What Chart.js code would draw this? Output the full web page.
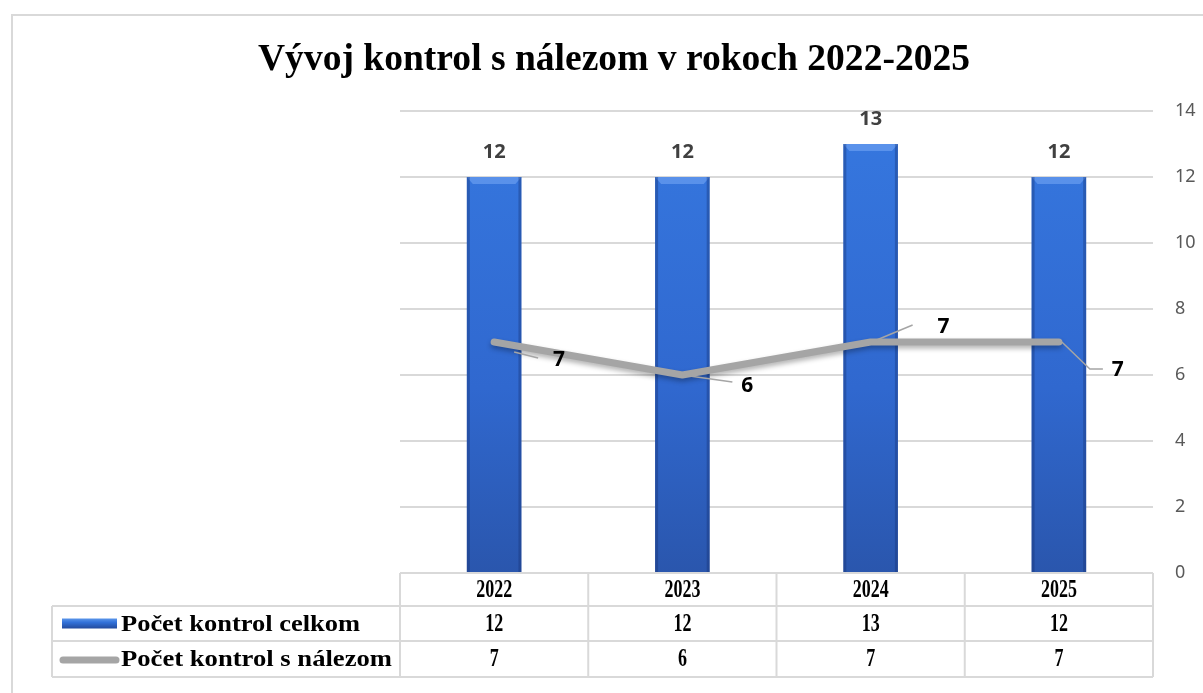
<!DOCTYPE html>
<html>
<head>
<meta charset="utf-8">
<script src="https://cdn.jsdelivr.net/npm/chart.js@4.4.1/dist/chart.umd.min.js"></script>
<style>
  body { margin: 0; background: #fff; }
  #wrap { width: 1203px; height: 693px; }
</style>
</head>
<body>
<div id="wrap"><canvas id="chart" width="1203" height="693"></canvas></div>
<script>
const years = ["2022", "2023", "2024", "2025"];
const totalChecks = [12, 12, 13, 12];
const checksWithFinding = [7, 6, 7, 7];
const seriesNames = ["Počet kontrol celkom", "Počet kontrol s nálezom"];
const chartTitle = "Vývoj kontrol s nálezom v rokoch 2022-2025";

const GRID = "#d9d9d9";
const LINE_GREY = "#a5a5a5";

// draws text squeezed/stretched to a given width
function fillFit(ctx, text, x, y, width, align) {
  const w = ctx.measureText(text).width;
  const sx = width / w;
  ctx.save();
  ctx.translate(x, y);
  ctx.scale(sx, 1);
  ctx.textAlign = align || "left";
  ctx.fillText(text, 0, 0);
  ctx.restore();
}
function fillScaled(ctx, text, x, y, sx) {
  ctx.save();
  ctx.translate(x, y);
  ctx.scale(sx, 1);
  ctx.textAlign = "center";
  ctx.fillText(text, 0, 0);
  ctx.restore();
}

function barFill(c) {
  const chart = c.chart;
  const { chartArea } = chart;
  if (!chartArea) return "#3170d8";
  const g = chart.ctx.createLinearGradient(0, chartArea.top, 0, chartArea.bottom);
  g.addColorStop(0, "#3678e0");
  g.addColorStop(0.6, "#3068cf");
  g.addColorStop(1, "#2a56ad");
  return g;
}

const frame = {
  id: "frame",
  beforeDraw(chart) {
    const ctx = chart.ctx;
    ctx.save();
    ctx.fillStyle = "#fff";
    ctx.fillRect(0, 0, chart.width, chart.height);
    ctx.strokeStyle = GRID;
    ctx.lineWidth = 2;
    ctx.strokeRect(12, 15, 1300, 800);
    // title
    ctx.fillStyle = "#000";
    ctx.font = "bold 37px 'Liberation Serif'";
    ctx.textBaseline = "middle";
    fillFit(ctx, chartTitle, 614, 60, 712, "center");
    ctx.restore();
  }
};

const barBevel = {
  id: "barBevel",
  afterDatasetDraw(chart, args) {
    if (args.index !== 0) return;
    const ctx = chart.ctx;
    ctx.save();
    args.meta.data.forEach(bar => {
      const l = bar.x - bar.width / 2, r = bar.x + bar.width / 2, t = bar.y;
      ctx.fillStyle = "rgba(120,170,245,0.55)";
      ctx.beginPath();
      ctx.moveTo(l, t); ctx.lineTo(r, t); ctx.lineTo(r - 6, t + 7); ctx.lineTo(l + 6, t + 7);
      ctx.closePath(); ctx.fill();
      ctx.fillStyle = "rgba(20,45,110,0.35)";
      ctx.fillRect(l, t, 3, chart.chartArea.bottom - t);
      ctx.fillRect(r - 3, t, 3, chart.chartArea.bottom - t);
    });
    ctx.restore();
  }
};

const lineShadow = {
  id: "lineShadow",
  beforeDatasetDraw(chart, args) {
    if (args.index !== 1) return;
    const ctx = chart.ctx;
    ctx.save();
    ctx.shadowColor = "rgba(0,0,0,0.3)";
    ctx.shadowBlur = 5;
    ctx.shadowOffsetY = 3;
  },
  afterDatasetDraw(chart, args) {
    if (args.index !== 1) return;
    chart.ctx.restore();
  }
};

// line label offsets (callout style), relative to the point
const lineLabelOffsets = [
  { lead: [[20, 10], [44, 16]], text: [65, 18] },
  { lead: [[0, 0], [50, 7]], text: [65, 11] },
  { lead: [[6, -2], [42, -17]], text: [73, -15] },
  { lead: [[3, 0], [31, 27], [44, 27]], text: [59, 28] }
];

const valueLabels = {
  id: "valueLabels",
  afterDatasetsDraw(chart) {
    const ctx = chart.ctx;
    ctx.save();
    ctx.textAlign = "center";
    ctx.textBaseline = "middle";
    ctx.font = "bold 20px 'Noto Sans'";
    ctx.fillStyle = "#404040";
    chart.getDatasetMeta(0).data.forEach((bar, i) => {
      ctx.fillText(String(totalChecks[i]), bar.x, bar.y - 25);
    });
    ctx.strokeStyle = LINE_GREY;
    ctx.lineWidth = 1.5;
    ctx.fillStyle = "#000";
    ctx.font = "bold 21px 'Noto Sans'";
    chart.getDatasetMeta(1).data.forEach((pt, i) => {
      const o = lineLabelOffsets[i];
      ctx.beginPath();
      o.lead.forEach((p, k) => {
        if (k === 0) ctx.moveTo(pt.x + p[0], pt.y + p[1]);
        else ctx.lineTo(pt.x + p[0], pt.y + p[1]);
      });
      ctx.stroke();
      ctx.fillText(String(checksWithFinding[i]), pt.x + o.text[0], pt.y + o.text[1]);
    });
    ctx.restore();
  }
};

const dataTable = {
  id: "dataTable",
  afterDraw(chart) {
    const ctx = chart.ctx;
    const xs = chart.scales.x;
    const area = chart.chartArea;
    const half = (xs.getPixelForValue(1) - xs.getPixelForValue(0)) / 2;
    const rows = [area.bottom, area.bottom + 33, area.bottom + 68, area.bottom + 104];
    const legendLeft = 52;
    ctx.save();
    ctx.strokeStyle = GRID;
    ctx.lineWidth = 2;
    ctx.beginPath();
    ctx.moveTo(area.left, rows[0]); ctx.lineTo(area.right, rows[0]);
    for (let r = 1; r < rows.length; r++) {
      ctx.moveTo(legendLeft, rows[r]); ctx.lineTo(area.right, rows[r]);
    }
    ctx.moveTo(legendLeft, rows[1]); ctx.lineTo(legendLeft, rows[3]);
    ctx.moveTo(area.left, rows[0]); ctx.lineTo(area.left, rows[3]);
    years.forEach((y, i) => {
      const xr = xs.getPixelForValue(i) + half;
      ctx.moveTo(xr, rows[0]); ctx.lineTo(xr, rows[3]);
    });
    ctx.stroke();

    ctx.fillStyle = "#000";
    ctx.font = "bold 25px 'Liberation Serif'";
    ctx.textBaseline = "middle";
    const rowData = [years, totalChecks, checksWithFinding];
    rowData.forEach((vals, r) => {
      const cy = (rows[r] + rows[r + 1]) / 2 + 1;
      vals.forEach((v, i) => fillScaled(ctx, String(v), xs.getPixelForValue(i), cy, 0.72));
    });

    // legend keys
    const y1 = (rows[1] + rows[2]) / 2, y2 = (rows[2] + rows[3]) / 2;
    const g = ctx.createLinearGradient(0, y1 - 5, 0, y1 + 5);
    g.addColorStop(0, "#5a95ea");
    g.addColorStop(0.4, "#3170d8");
    g.addColorStop(1, "#224a9c");
    ctx.fillStyle = g;
    ctx.fillRect(62, y1 - 5, 55, 10);
    ctx.strokeStyle = LINE_GREY;
    ctx.lineWidth = 7;
    ctx.lineCap = "round";
    ctx.beginPath();
    ctx.moveTo(63, y2 + 1); ctx.lineTo(116, y2 + 1);
    ctx.stroke();
    ctx.fillStyle = "#000";
    ctx.font = "bold 24px 'Liberation Serif'";
    fillFit(ctx, seriesNames[0], 121, y1 + 1, 239, "left");
    fillFit(ctx, seriesNames[1], 121, y2 + 1, 271, "left");
    ctx.restore();
  }
};

new Chart(document.getElementById("chart"), {
  data: {
    labels: years,
    datasets: [
      {
        type: "bar",
        label: seriesNames[0],
        data: totalChecks,
        backgroundColor: barFill,
        categoryPercentage: 1,
        barPercentage: 0.29,
        order: 2
      },
      {
        type: "line",
        label: seriesNames[1],
        data: checksWithFinding,
        borderColor: LINE_GREY,
        borderWidth: 7,
        pointRadius: 0,
        borderJoinStyle: "round",
        borderCapStyle: "round",
        tension: 0,
        order: 1
      }
    ]
  },
  options: {
    responsive: false,
    animation: false,
    layout: { padding: { left: 400, top: 111, bottom: 120, right: 0 } },
    plugins: {
      legend: { display: false },
      title: { display: false },
      tooltip: { enabled: false }
    },
    scales: {
      x: { display: false },
      y: {
        position: "right",
        min: 0,
        max: 14,
        ticks: { stepSize: 2, padding: 22, color: "#595959", font: { family: "'Noto Sans'", size: 18 } },
        grid: { color: GRID, lineWidth: 2, drawTicks: false },
        border: { display: false },
        afterFit(scale) { scale.width = 50; }
      }
    }
  },
  plugins: [frame, barBevel, lineShadow, valueLabels, dataTable]
});
</script>
</body>
</html>
